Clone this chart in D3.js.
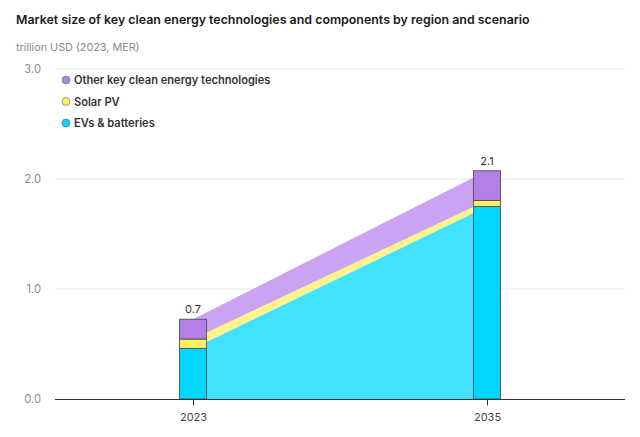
<!DOCTYPE html>
<html><head><meta charset="utf-8">
<script src="https://cdn.jsdelivr.net/npm/d3@7"></script>
<style>body{margin:0;background:#fff;} svg{display:block;font-family:Inter, "Open Sans", sans-serif;}</style>
</head><body><svg id="c" width="640" height="437"></svg>
<script>
const years = [2023, 2035];
const seriesNames = ["EVs & batteries", "Solar PV", "Other key clean energy technologies"];
const evs = [0.46, 1.75];
const solar = [0.085, 0.055];
const other = [0.18, 0.27];
const totalLabels = ["0.7", "2.1"];
const yTicks = [0, 1, 2, 3];

const barColors = ["#00d6fe", "#fff061", "#b47fe6"];
const areaColors = ["#42e2ff", "#fff38c", "#cba3f3"];

const svg = d3.select("#c");
const x = d3.scaleLinear().domain([2023, 2035]).range([193, 487]);
const y = d3.scaleLinear().domain([0, 3]).range([399, 69]);
const bw = 27;

svg.append("text").attr("x", 16).attr("y", 24).attr("font-size", 12.4).attr("font-weight", 600)
  .attr("fill", "#1a1a1a").text("Market size of key clean energy technologies and components by region and scenario");
svg.append("text").attr("x", 16).attr("y", 51).attr("font-size", 10.8).attr("fill", "#8a8a8a").text("trillion USD (2023, MER)");

// grid
svg.append("g").selectAll("line").data(yTicks.slice(1)).join("line")
  .attr("x1", 55).attr("x2", 625).attr("y1", d => y(d)).attr("y2", d => y(d))
  .attr("stroke", "#e8e8e8").attr("stroke-width", 1);
svg.append("g").selectAll("text").data(yTicks).join("text")
  .attr("x", 41).attr("y", d => y(d) + 4).attr("text-anchor", "end").attr("font-size", 11.2)
  .attr("fill", "#8a8a8a").text(d => d.toFixed(1));

const data = years.map((yr, i) => ({year: yr, "EVs & batteries": evs[i], "Solar PV": solar[i], "Other key clean energy technologies": other[i]}));
const stacked = d3.stack().keys(seriesNames)(data);

const area = d3.area().x(d => x(d.data.year)).y0(d => y(d[0])).y1(d => y(d[1]));
svg.append("g").selectAll("path").data(stacked).join("path")
  .attr("d", area).attr("fill", (d, i) => areaColors[i]);

// bars
stacked.forEach((s, i) => {
  svg.append("g").selectAll("rect").data(s).join("rect")
    .attr("x", d => x(d.data.year) - bw / 2).attr("width", bw)
    .attr("y", d => y(d[1])).attr("height", d => y(d[0]) - y(d[1]))
    .attr("fill", barColors[i]).attr("stroke", "#4a4a4a").attr("stroke-opacity", 0.85).attr("stroke-width", 1);
});

// totals
svg.append("g").selectAll("text").data(data).join("text")
  .attr("x", d => x(d.year)).attr("y", (d, i) => y(evs[i] + solar[i] + other[i]) - 6)
  .attr("text-anchor", "middle").attr("font-size", 11).attr("fill", "#333").text((d, i) => totalLabels[i]);

// x axis
svg.append("line").attr("x1", 55).attr("x2", 625).attr("y1", 399.5).attr("y2", 399.5).attr("stroke", "#333").attr("stroke-width", 1);
const xa = svg.append("g").attr("transform", "translate(0,399.5)")
  .call(d3.axisBottom(x).tickValues(years).tickFormat(d3.format("d")).tickSize(6).tickSizeOuter(0));
xa.select(".domain").remove();
xa.selectAll("line").attr("stroke", "#333");
xa.selectAll("text").attr("font-size", 11).attr("fill", "#444").attr("font-family", "Inter, sans-serif").attr("dy", "1.15em");

// legend
const legendOrder = [2, 1, 0];
const lg = svg.append("g").selectAll("g").data(legendOrder).join("g")
  .attr("transform", (d, i) => `translate(66,${80 + i * 21.5})`);
lg.append("circle").attr("r", 4).attr("fill", d => barColors[d]).attr("stroke", "#666").attr("stroke-width", 0.6);
lg.append("text").attr("x", 8).attr("y", 4).attr("font-size", 11.1).attr("font-weight", 600).attr("fill", "#333")
  .text(d => seriesNames[d]);
</script></body></html>
